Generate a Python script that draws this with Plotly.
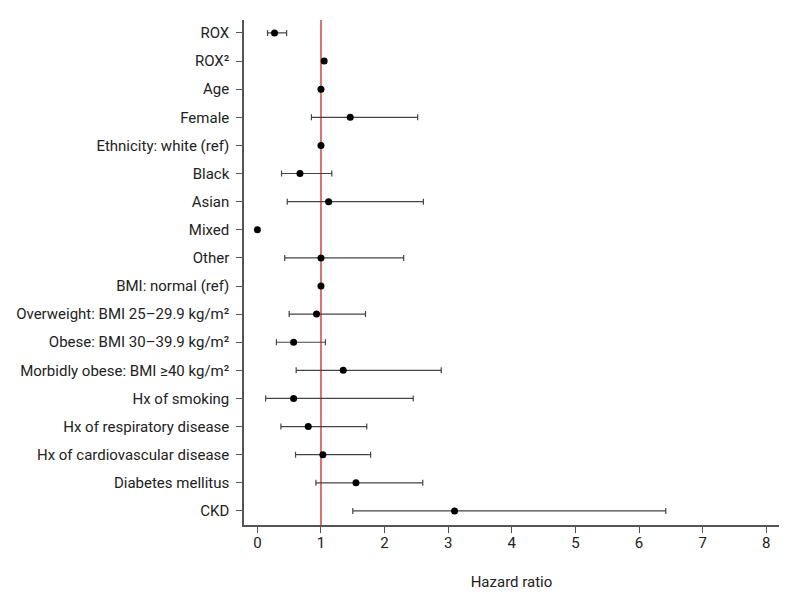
import plotly.graph_objects as go

labels = ["ROX", "ROX²", "Age", "Female", "Ethnicity: white (ref)", "Black", "Asian",
          "Mixed", "Other", "BMI: normal (ref)", "Overweight: BMI 25–29.9 kg/m²",
          "Obese: BMI 30–39.9 kg/m²", "Morbidly obese: BMI ≥40 kg/m²", "Hx of smoking",
          "Hx of respiratory disease", "Hx of cardiovascular disease", "Diabetes mellitus", "CKD"]
hr    = [0.27, 1.05, 1.00, 1.46, 1.00, 0.67, 1.12, 0.00, 1.00, 1.00, 0.93, 0.57, 1.35, 0.57, 0.80, 1.03, 1.55, 3.10]
lower = [0.16, 1.03, 0.99, 0.85, 1.00, 0.38, 0.47, 0.00, 0.43, 1.00, 0.50, 0.30, 0.61, 0.13, 0.37, 0.60, 0.92, 1.50]
upper = [0.46, 1.08, 1.02, 2.52, 1.00, 1.17, 2.61, 0.00, 2.30, 1.00, 1.70, 1.07, 2.89, 2.45, 1.72, 1.78, 2.60, 6.42]

plus = [u - h for u, h in zip(upper, hr)]
minus = [h - l for h, l in zip(hr, lower)]

fig = go.Figure()
fig.add_shape(type="line", x0=1, x1=1, y0=0, y1=1, yref="paper", xref="x",
              line=dict(color="#e07070", width=2), layer="below")
fig.add_trace(go.Scatter(
    x=hr, y=labels, mode="markers",
    marker=dict(color="black", size=7, symbol="circle"),
    error_x=dict(type="data", symmetric=False, array=plus, arrayminus=minus,
                 color="#444444", thickness=1.2, width=3),
    showlegend=False,
))

fig.update_layout(
    width=795, height=601,
    margin=dict(l=236, r=24, t=12, b=84, autoexpand=False),
    plot_bgcolor="white", paper_bgcolor="white",
    font=dict(family="Roboto, sans-serif", size=15, color="#222222"),
    xaxis=dict(range=[-0.21, 8.2], tickvals=list(range(9)), showgrid=False, zeroline=False,
               showline=True, linecolor="#555555", linewidth=1.5, ticks="outside",
               ticklen=6, tickcolor="#555555", ticklabelstandoff=-3, automargin=False,
               title=dict(text="Hazard ratio", standoff=26, font=dict(size=15))),
    yaxis=dict(categoryorder="array", categoryarray=labels, autorange=False,
               range=[17.5, -0.46], showgrid=False, zeroline=False, showline=True,
               linecolor="#555555", linewidth=1.5, ticks="outside", ticklen=6,
               tickcolor="#555555", ticklabelstandoff=4, automargin=False),
)

fig.write_html("out.html")
